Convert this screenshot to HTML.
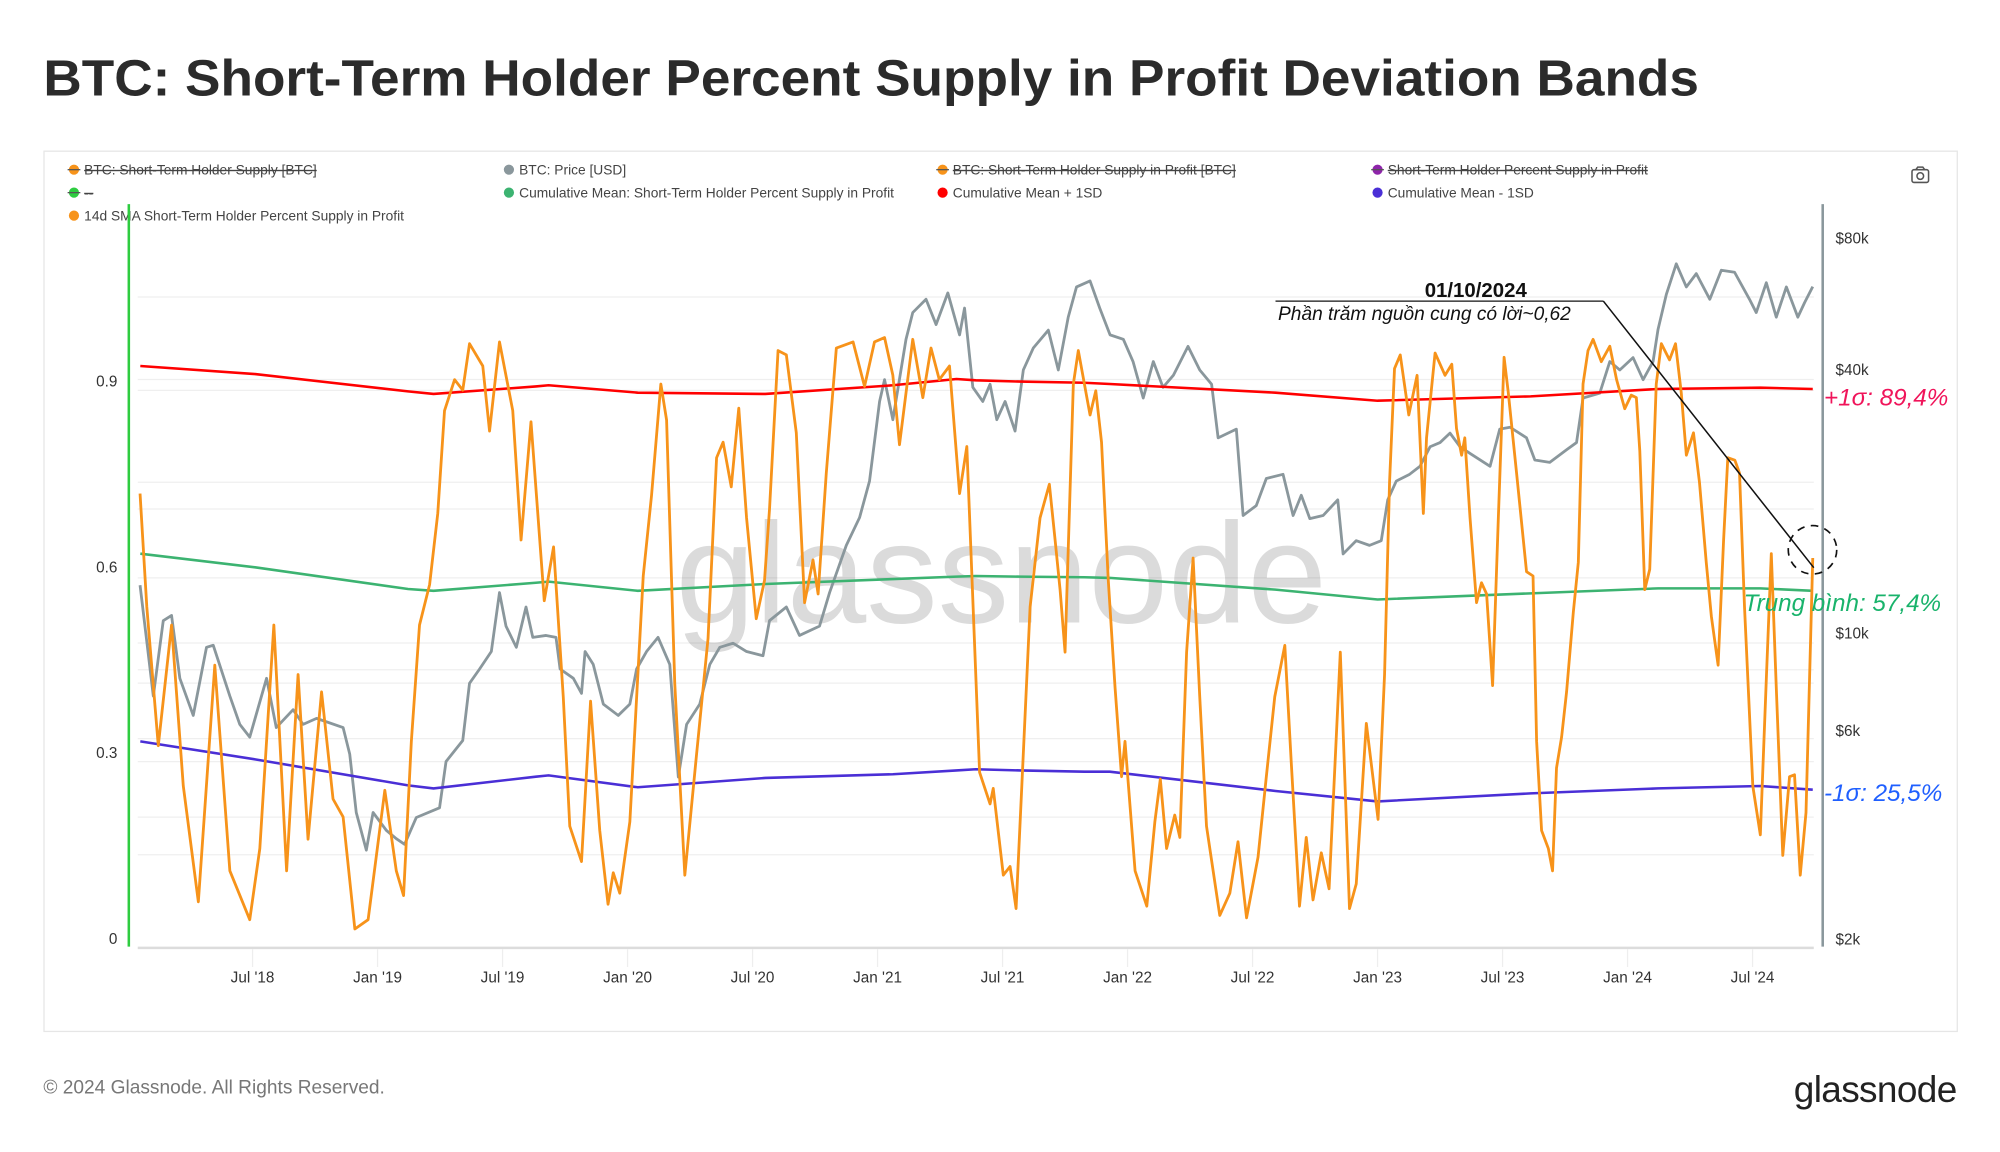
<!DOCTYPE html>
<html><head><meta charset="utf-8">
<style>
html,body{margin:0;padding:0;background:#fff;}
svg{display:block;font-family:"Liberation Sans","Noto Sans CJK SC",sans-serif;}
</style></head>
<body>
<svg id="chart" width="2000" height="1152" viewBox="0 0 1568 903" preserveAspectRatio="none" xmlns="http://www.w3.org/2000/svg">
<rect x="0" y="0" width="1568" height="903" fill="#fff"/>
<text x="34" y="75" font-size="40" font-weight="bold" fill="#2b2b2b" textLength="1298" lengthAdjust="spacingAndGlyphs">BTC: Short-Term Holder Percent Supply in Profit Deviation Bands</text>
<rect x="34.5" y="118.5" width="1500" height="690" fill="none" stroke="#e6e6e6" stroke-width="1"/>
<g id="grid"></g>
<text x="785" y="488" font-size="112" fill="#000" fill-opacity="0.14" text-anchor="middle" font-weight="normal">glassnode</text>
<g id="legend" font-size="10.8" fill="#444"></g>
<g stroke="#555" fill="none" stroke-width="1.2">
<rect x="1499" y="133" width="13" height="10" rx="1.5"/><circle cx="1505.5" cy="138" r="2.6"/><path d="M1502 133 l1.5 -2 h4 l1.5 2"/>
</g>
<line x1="101" y1="160" x2="101" y2="742" stroke="#2ecc40" stroke-width="2"/>
<line x1="1429" y1="160" x2="1429" y2="742" stroke="#8a979c" stroke-width="2"/>
<line x1="108" y1="743" x2="1422" y2="743" stroke="#dcdcdc" stroke-width="2"/>
<g id="axes"></g>
<g id="series"></g>
<g>
<text x="1157" y="233" font-size="16" font-weight="bold" fill="#111" text-anchor="middle">01/10/2024</text>
<line x1="1000" y1="236" x2="1257" y2="236" stroke="#111" stroke-width="1"/>
<text x="1002" y="251" font-size="15" font-style="italic" fill="#111">Phần trăm nguồn cung có lời~0,62</text>
<line x1="1257" y1="236" x2="1422" y2="445" stroke="#111" stroke-width="1.2"/>
<circle cx="1421" cy="431" r="19" fill="none" stroke="#111" stroke-width="1.3" stroke-dasharray="6,5"/>
<text x="1430" y="318" font-size="19" font-style="italic" fill="#f0145a">+1σ: 89,4%</text>
<text x="1367" y="479" font-size="19" font-style="italic" fill="#19b36b">Trung bình: 57,4%</text>
<text x="1430" y="628" font-size="19" font-style="italic" fill="#1f5fff">-1σ: 25,5%</text>
</g>
<text x="34" y="857" font-size="15" fill="#777">© 2024 Glassnode. All Rights Reserved.</text>
<text x="1534" y="864" font-size="29" fill="#222" text-anchor="end" letter-spacing="-0.5">glassnode</text>
</svg>
<script>
const xTickLabels=["Jul '18","Jan '19","Jul '19","Jan '20","Jul '20","Jan '21","Jul '21","Jan '22","Jul '22","Jan '23","Jul '23","Jan '24","Jul '24"];
const xTickDates=[2018.5,2019,2019.5,2020,2020.5,2021,2021.5,2022,2022.5,2023,2023.5,2024,2024.5];
const leftTickValues=[0,0.3,0.6,0.9];
const leftTickLabels=["0","0.3","0.6","0.9"];
const rightTickValues=[2000,6000,10000,40000,80000];
const rightTickLabels=["$2k","$6k","$10k","$40k","$80k"];

const smaDates=[2018.050,2018.077,2018.123,2018.176,2018.223,2018.283,2018.349,2018.409,2018.489,2018.529,2018.585,2018.636,2018.682,2018.722,2018.776,2018.822,2018.862,2018.909,2018.962,2019.029,2019.075,2019.104,2019.135,2019.168,2019.208,2019.241,2019.268,2019.308,2019.341,2019.368,2019.421,2019.448,2019.488,2019.541,2019.574,2019.614,2019.667,2019.704,
2019.743,2019.769,2019.816,2019.852,2019.889,2019.922,2019.943,2019.969,2020.009,2020.063,2020.096,2020.133,2020.156,2020.189,2020.229,2020.276,2020.322,2020.356,2020.382,2020.415,2020.445,2020.476,2020.515,2020.548,2020.568,2020.602,2020.635,2020.675,2020.708,2020.742,2020.762,2020.795,2020.835,2020.902,2020.948,2020.988,2021.028,2021.061,2021.088,2021.141,2021.181,2021.214,2021.247,2021.288,2021.328,2021.357,2021.408,
2021.450,2021.463,2021.503,2021.530,2021.554,2021.577,2021.610,2021.650,2021.687,2021.710,2021.730,2021.750,2021.783,2021.803,2021.850,2021.873,2021.896,2021.923,2021.950,2021.976,2021.990,2022.030,2022.077,2022.109,2022.131,2022.156,2022.189,2022.209,2022.236,2022.262,2022.289,2022.316,2022.369,2022.409,2022.442,2022.476,2022.522,2022.555,2022.589,2022.629,2022.655,2022.688,2022.715,2022.742,2022.775,2022.806,2022.851,2022.888,2022.915,2022.955,2023.002,2023.028,2023.048,2023.068,2023.091,2023.125,2023.158,
2023.183,2023.196,2023.230,2023.270,2023.297,2023.316,2023.336,2023.349,2023.370,2023.396,2023.416,2023.436,2023.460,2023.483,2023.506,2023.523,2023.556,2023.596,2023.622,2023.636,2023.656,2023.683,2023.700,2023.716,2023.736,2023.756,2023.783,2023.803,2023.822,2023.842,2023.862,2023.895,2023.929,2023.956,2023.989,2024.015,2024.035,2024.049,2024.069,2024.089,2024.115,2024.135,2024.168,2024.192,2024.215,2024.235,2024.264,2024.288,2024.315,2024.335,2024.362,2024.384,2024.401,2024.429,2024.448,2024.468,2024.501,2024.531,2024.555,2024.575,2024.595,2024.621,2024.648,2024.668,2024.691,2024.714,2024.741];
const smaValues=[0.719,0.536,0.312,0.507,0.247,0.060,0.442,0.110,0.031,0.146,0.507,0.110,0.427,0.161,0.399,0.226,0.197,0.016,0.031,0.240,0.110,0.070,0.319,0.507,0.572,0.687,0.853,0.903,0.886,0.961,0.925,0.820,0.964,0.853,0.644,0.835,0.546,0.633,
0.391,0.182,0.125,0.384,0.175,0.056,0.107,0.074,0.189,0.586,0.716,0.896,0.838,0.413,0.103,0.298,0.485,0.777,0.802,0.730,0.857,0.680,0.517,0.579,0.694,0.950,0.943,0.817,0.543,0.612,0.557,0.752,0.954,0.964,0.892,0.964,0.971,0.910,0.798,0.968,0.874,0.954,0.903,0.925,0.719,0.795,0.269,
0.218,0.243,0.103,0.117,0.049,0.247,0.536,0.680,0.734,0.644,0.564,0.463,0.896,0.950,0.846,0.885,0.802,0.579,0.406,0.262,0.319,0.110,0.053,0.189,0.258,0.146,0.200,0.164,0.463,0.615,0.391,0.182,0.038,0.074,0.157,0.034,0.132,0.262,0.391,0.474,0.283,0.053,0.164,0.063,0.139,0.081,0.463,0.049,0.089,0.348,0.193,0.427,0.737,0.921,0.943,0.846,0.910,
0.687,0.809,0.946,0.910,0.928,0.824,0.781,0.809,0.680,0.543,0.575,0.557,0.409,0.680,0.939,0.882,0.752,0.593,0.586,0.319,0.175,0.146,0.110,0.276,0.326,0.399,0.528,0.608,0.896,0.950,0.968,0.932,0.957,0.903,0.856,0.878,0.874,0.788,0.564,0.597,0.896,0.961,0.935,0.961,0.882,0.781,0.817,0.737,0.608,0.521,0.442,0.644,0.777,0.773,0.752,0.536,0.247,0.168,0.420,0.622,0.406,0.135,0.262,0.265,0.103,0.204,0.615];

const priceDates=[2018.050,2018.103,2018.143,2018.176,2018.209,2018.263,2018.316,2018.343,2018.409,2018.449,2018.489,2018.556,2018.595,2018.662,2018.702,2018.756,2018.862,2018.889,2018.915,2018.955,2018.982,2019.035,2019.075,2019.108,2019.155,2019.248,2019.274,2019.341,2019.368,2019.408,2019.455,2019.488,2019.514,2019.555,2019.594,2019.621,2019.674,2019.714,
2019.730,2019.783,2019.816,2019.830,2019.863,2019.903,2019.963,2020.009,2020.036,2020.076,2020.122,2020.169,2020.203,2020.236,2020.289,2020.329,2020.369,2020.422,2020.476,2020.542,2020.568,2020.635,2020.688,2020.768,2020.808,2020.875,2020.928,2020.968,2021.008,2021.028,2021.061,2021.114,2021.141,2021.194,2021.234,2021.281,2021.328,2021.348,2021.381,2021.421,
2021.450,2021.477,2021.510,2021.550,2021.583,2021.623,2021.683,2021.723,2021.763,2021.796,2021.850,2021.889,2021.930,2021.983,2022.022,2022.063,2022.103,2022.142,2022.183,2022.242,2022.289,2022.336,2022.362,2022.435,2022.462,2022.515,2022.555,2022.622,2022.662,2022.695,2022.729,2022.782,2022.841,2022.862,2022.915,2022.968,2023.015,2023.041,2023.075,2023.128,
2023.170,2023.210,2023.250,2023.290,2023.330,2023.370,2023.450,2023.489,2023.530,2023.596,2023.629,2023.689,2023.756,2023.796,2023.822,2023.889,2023.929,2023.969,2024.022,2024.062,2024.102,2024.122,2024.155,2024.195,2024.235,2024.275,2024.329,2024.375,2024.428,2024.488,2024.515,2024.555,2024.595,2024.635,2024.681,2024.708,2024.741];
const priceValues=[12900,7200,10700,11000,7900,6500,9300,9400,7200,6200,5800,7900,6100,6700,6200,6400,6100,5300,3900,3200,3900,3550,3400,3300,3800,4000,5100,5700,7700,8300,9100,12400,10400,9300,11500,9800,9900,9800,
8300,7900,7300,9100,8500,6900,6500,6900,8300,9100,9800,8500,4700,6200,6900,8500,9300,9500,9100,8900,10700,11500,9900,10400,12400,15900,18400,22300,33900,38000,30800,47000,54100,58000,50800,60000,48100,55400,36500,33900,
37100,30800,33900,29000,40000,44900,49300,40000,52800,61900,63900,55400,48100,47000,41800,34500,41800,36500,38900,45300,40000,37100,28000,29300,18600,19600,22600,23100,18600,20700,18300,18600,20200,15200,16300,15900,16300,20200,22300,23100,
24100,26700,27300,28700,26700,25800,24100,29300,29600,28000,24900,24600,26300,27300,34500,35400,41800,40000,42700,38000,41800,49500,59500,69900,61900,66400,58000,67600,66900,58000,54100,63300,52800,61900,52800,57000,62000];

const bandDates=[2018.051,2018.510,2019.122,2019.224,2019.633,2019.684,2020.041,2020.551,2021.061,2021.316,2021.393,2021.571,2021.827,2021.929,2022.592,2023.000,2023.612,2024.122,2024.531,2024.741];
const meanValues=[0.622,0.600,0.565,0.562,0.575,0.577,0.562,0.573,0.581,0.585,0.586,0.585,0.584,0.583,0.564,0.548,0.558,0.566,0.566,0.562];
const upperValues=[0.925,0.912,0.884,0.880,0.892,0.894,0.882,0.880,0.894,0.904,0.902,0.900,0.898,0.896,0.882,0.869,0.876,0.888,0.890,0.888];
const lowerValues=[0.319,0.290,0.248,0.243,0.262,0.264,0.245,0.260,0.266,0.272,0.274,0.272,0.270,0.270,0.239,0.222,0.235,0.243,0.247,0.241];

const NS="http://www.w3.org/2000/svg";
function xScale(d){return 296+(d-2019)*196;}
function yLeft(v){return 736-v*485.5;}
function yRight(p){return 290-103.3*Math.log2(p/40000);}
function mk(tag,attrs,parent){const e=document.createElementNS(NS,tag);for(const k in attrs)e.setAttribute(k,attrs[k]);parent.appendChild(e);return e;}

const grid=document.getElementById('grid');
const gridYs=[232.8,297.5,306,378,399,453,504,525,535.5,579,597,640.5,670];
gridYs.forEach(y=>{const l=mk('line',{x1:108,x2:1422,y1:y,y2:y,stroke:'#efefef','stroke-width':1},grid);

});

const legend=document.getElementById('legend');
const legendItems=[
 [58,133,'#f7931a','BTC: Short-Term Holder Supply [BTC]',true],
 [399,133,'#8a979c','BTC: Price [USD]',false],
 [739,133,'#f7931a','BTC: Short-Term Holder Supply in Profit [BTC]',true],
 [1080,133,'#8e24aa','Short-Term Holder Percent Supply in Profit',true],
 [58,151,'#2ecc40','--',true],
 [399,151,'#3cb371','Cumulative Mean: Short-Term Holder Percent Supply in Profit',false],
 [739,151,'#ff0000','Cumulative Mean + 1SD',false],
 [1080,151,'#4a2fd6','Cumulative Mean - 1SD',false],
 [58,169,'#f7931a','14d SMA Short-Term Holder Percent Supply in Profit',false]];
legendItems.forEach(it=>{
 const g=mk('g',{},legend);
 
 
 mk('circle',{cx:it[0],cy:it[1],r:4,fill:it[2]},g);
 const t=mk('text',{x:it[0]+8,y:it[1]+3.8,fill:'#444'},g);
 t.textContent=it[3];
 if(it[4]){t.setAttribute('text-decoration','line-through');mk('line',{x1:it[0]-5,x2:it[0]+5,y1:it[1],y2:it[1],stroke:'#555','stroke-width':1},g);}
});

const axes=document.getElementById('axes');
xTickDates.forEach((d,i)=>{
 const x=xScale(d);
 const tk=mk('line',{x1:x,x2:x,y1:744,y2:758,stroke:'#eeeeee','stroke-width':1},axes);
 
 
 const t=mk('text',{x:x,y:770,'font-size':12,fill:'#333','text-anchor':'middle'},axes);
 
 
 t.textContent=xTickLabels[i];
});
leftTickValues.forEach((v,i)=>{
 const t=mk('text',{x:92,y:yLeft(v)+4,'font-size':12,fill:'#333','text-anchor':'end'},axes);
 
 
 t.textContent=leftTickLabels[i];
});
rightTickValues.forEach((p,i)=>{
 const t=mk('text',{x:1439,y:yRight(p)+4,'font-size':12,fill:'#333'},axes);
 
 
 t.textContent=rightTickLabels[i];
});

const series=document.getElementById('series');
function pathFrom(ds,vs,fy){const n=Math.min(ds.length,vs.length);let s='';for(let i=0;i<n;i++){s+=(i?'L':'M')+xScale(ds[i]).toFixed(1)+' '+fy(vs[i]).toFixed(1);}return s;}
const pPrice=mk('path',{d:pathFrom(priceDates,priceValues,yRight),fill:'none',stroke:'#8a979c','stroke-width':2.2,'stroke-linejoin':'round'},series);


const pUp=mk('path',{d:pathFrom(bandDates,upperValues,yLeft),fill:'none',stroke:'#ff0000','stroke-width':2},series);


const pMean=mk('path',{d:pathFrom(bandDates,meanValues,yLeft),fill:'none',stroke:'#3cb371','stroke-width':2},series);


const pLow=mk('path',{d:pathFrom(bandDates,lowerValues,yLeft),fill:'none',stroke:'#4a2fd6','stroke-width':2},series);


const pSma=mk('path',{d:pathFrom(smaDates,smaValues,yLeft),fill:'none',stroke:'#f7931a','stroke-width':2.2,'stroke-linejoin':'round'},series);


</script>
</body></html>
